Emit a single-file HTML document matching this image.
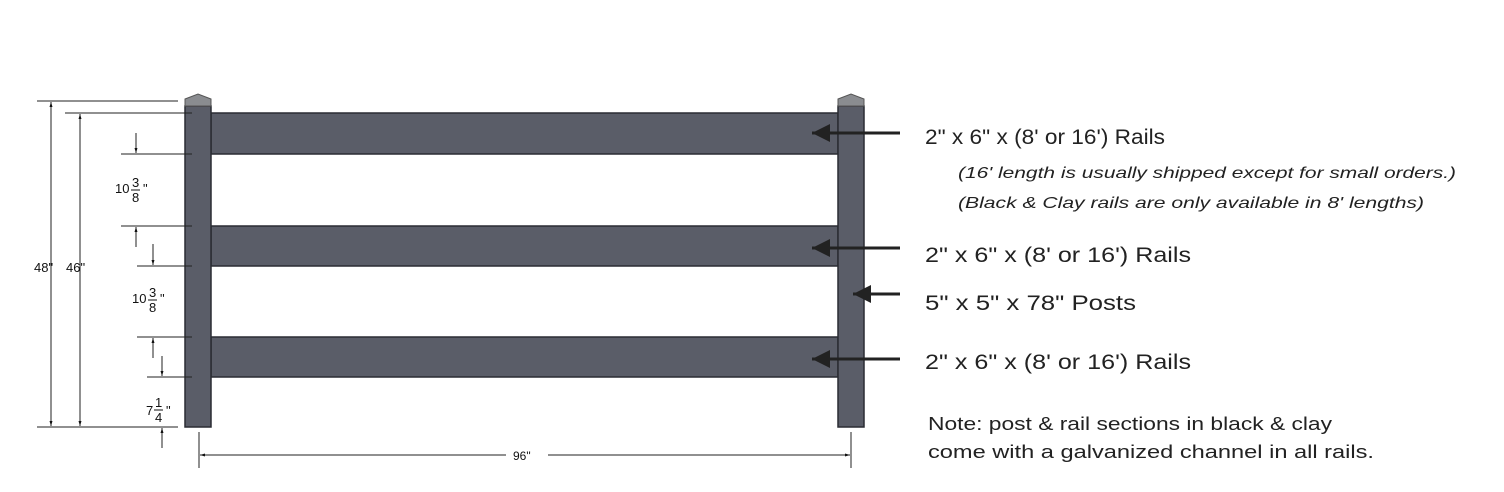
<!DOCTYPE html>
<html><head><meta charset="utf-8"><style>html,body{margin:0;padding:0;background:#fff;}svg{display:block}</style></head>
<body>
<svg width="1504" height="492" viewBox="0 0 1504 492" xmlns="http://www.w3.org/2000/svg" font-family="Liberation Sans, Arial, sans-serif">
<defs>
<marker id="ah" viewBox="0 0 10 10" refX="10" refY="5" markerWidth="6" markerHeight="6" orient="auto-start-reverse"><path d="M0,0 L10,5 L0,10 z" fill="#222"/></marker>
<marker id="sa" viewBox="0 0 10 10" refX="10" refY="5" markerWidth="5" markerHeight="5" orient="auto-start-reverse"><path d="M0,2 L10,5 L0,8 z" fill="#111"/></marker>
</defs>
<g fill="#5a5d68" stroke="#2a2c33" stroke-width="1.5">
<rect x="211" y="113" width="627" height="41"/>
<rect x="211" y="226" width="627" height="40"/>
<rect x="211" y="337" width="627" height="40"/>
</g>
<g fill="#5a5d68" stroke="#2a2c33" stroke-width="1.5">
<rect x="185" y="106" width="26" height="321"/>
<rect x="838" y="106" width="26" height="321"/>
</g>
<g fill="#8a8c90" stroke="#555" stroke-width="1">
<path d="M185,106 L185,99 L198,94 L211,99 L211,106 z"/>
<path d="M838,106 L838,99 L851,94 L864,99 L864,106 z"/>
</g>
<g stroke="#222" stroke-width="1" fill="none">
<line x1="37" y1="101" x2="178" y2="101"/>
<line x1="65" y1="113" x2="192" y2="113"/>
<line x1="37" y1="427" x2="178" y2="427"/>
<line x1="121" y1="154" x2="192" y2="154"/>
<line x1="121" y1="226" x2="192" y2="226"/>
<line x1="137" y1="266" x2="192" y2="266"/>
<line x1="137" y1="337" x2="192" y2="337"/>
<line x1="147" y1="377" x2="192" y2="377"/>
<line x1="51" y1="102" x2="51" y2="426" marker-start="url(#sa)" marker-end="url(#sa)"/>
<line x1="80" y1="114" x2="80" y2="426" marker-start="url(#sa)" marker-end="url(#sa)"/>
<line x1="136" y1="133" x2="136" y2="153" marker-end="url(#sa)"/>
<line x1="136" y1="247" x2="136" y2="227" marker-end="url(#sa)"/>
<line x1="153" y1="244" x2="153" y2="265" marker-end="url(#sa)"/>
<line x1="153" y1="358" x2="153" y2="338" marker-end="url(#sa)"/>
<line x1="162" y1="356" x2="162" y2="376" marker-end="url(#sa)"/>
<line x1="162" y1="448" x2="162" y2="428" marker-end="url(#sa)"/>
<line x1="199" y1="432" x2="199" y2="468"/>
<line x1="851" y1="432" x2="851" y2="468"/>
<line x1="200" y1="455" x2="850" y2="455" marker-start="url(#sa)" marker-end="url(#sa)"/>
</g>
<g font-size="13" fill="#111">
<text x="34" y="272">48"</text>
<text x="66" y="272">46"</text>
<rect x="506" y="449" width="42" height="13" fill="#fff"/>
<text x="513" y="460" font-size="12">96"</text>
<text x="115" y="193">10</text><text x="132" y="187">3</text><line x1="131" y1="190" x2="140" y2="190" stroke="#111"/><text x="132" y="202">8</text><text x="143" y="193">"</text>
<text x="132" y="303">10</text><text x="149" y="297">3</text><line x1="148" y1="300" x2="157" y2="300" stroke="#111"/><text x="149" y="312">8</text><text x="160" y="303">"</text>
<text x="146" y="415">7</text><text x="155" y="407">1</text><line x1="154" y1="410" x2="163" y2="410" stroke="#111"/><text x="155" y="422">4</text><text x="166" y="415">"</text>
</g>
<g stroke="#222" stroke-width="3">
<line x1="900" y1="133" x2="812" y2="133" marker-end="url(#ah)"/>
<line x1="900" y1="248" x2="812" y2="248" marker-end="url(#ah)"/>
<line x1="900" y1="294" x2="853" y2="294" marker-end="url(#ah)"/>
<line x1="900" y1="359" x2="812" y2="359" marker-end="url(#ah)"/>
</g>
<g fill="#222" font-size="21">
<text x="925" y="144" textLength="240" lengthAdjust="spacingAndGlyphs">2" x 6" x (8' or 16') Rails</text>
<text x="925" y="262" textLength="266" lengthAdjust="spacingAndGlyphs">2" x 6" x (8' or 16') Rails</text>
<text x="925" y="310" textLength="211" lengthAdjust="spacingAndGlyphs">5" x 5" x 78" Posts</text>
<text x="925" y="369" textLength="266" lengthAdjust="spacingAndGlyphs">2" x 6" x (8' or 16') Rails</text>
</g>
<g fill="#222" font-size="16" font-style="italic">
<text x="958" y="178" textLength="498" lengthAdjust="spacingAndGlyphs">(16' length is usually shipped except for small orders.)</text>
<text x="958" y="208" textLength="466" lengthAdjust="spacingAndGlyphs">(Black &amp; Clay rails are only available in 8' lengths)</text>
</g>
<g fill="#222" font-size="18">
<text x="928" y="430" textLength="404" lengthAdjust="spacingAndGlyphs">Note: post &amp; rail sections in black &amp; clay</text>
<text x="928" y="458" textLength="446" lengthAdjust="spacingAndGlyphs">come with a galvanized channel in all rails.</text>
</g>
</svg>
</body></html>
